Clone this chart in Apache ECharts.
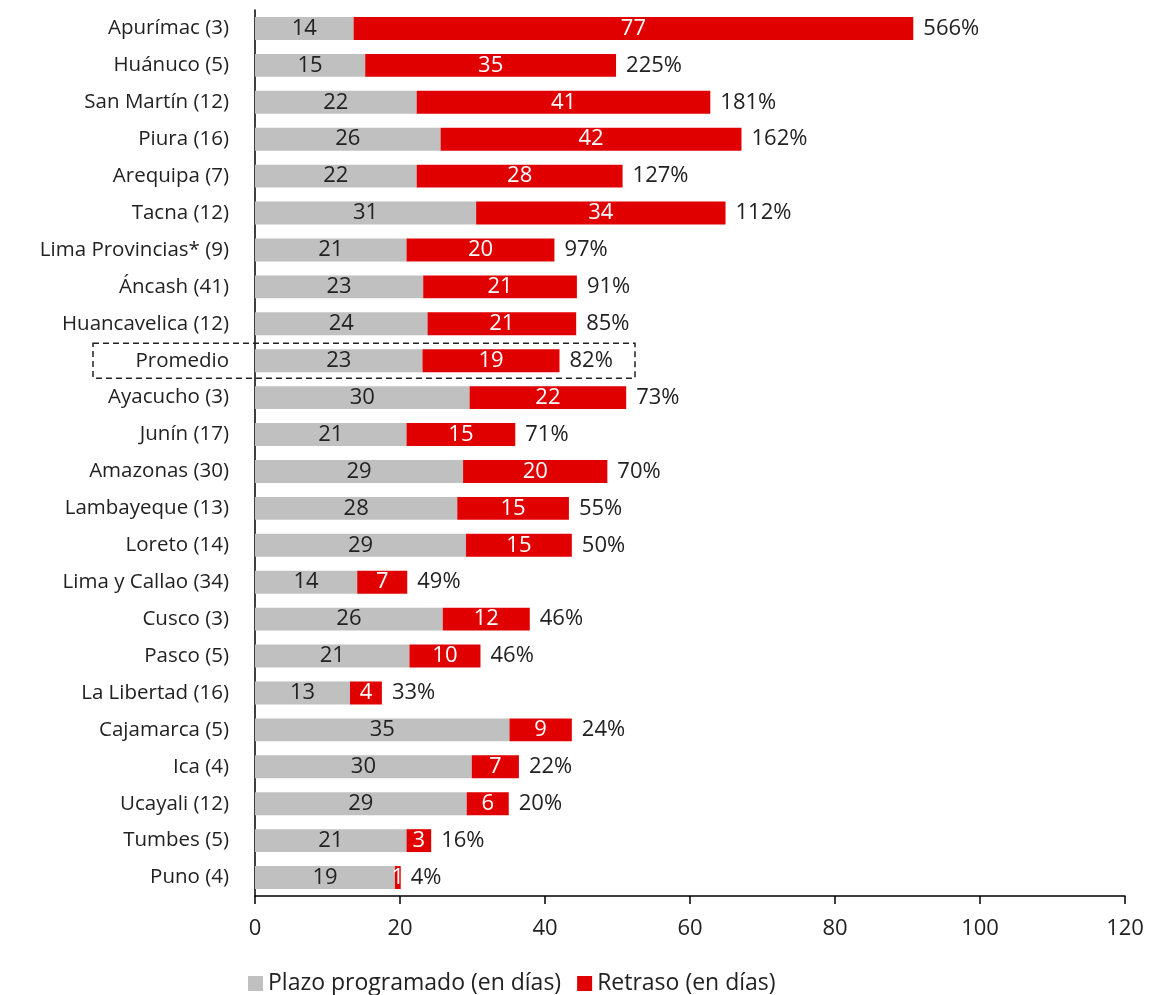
<!DOCTYPE html>
<html><head><meta charset="utf-8">
<script src="https://cdn.jsdelivr.net/npm/echarts@6/dist/echarts.min.js"></script>
<style>html,body{margin:0;padding:0;background:#fff}#c{width:1151px;height:995px}</style>
</head><body><div id="c"></div>
<script>
const categories = ["Apurímac (3)","Huánuco (5)","San Martín (12)","Piura (16)","Arequipa (7)","Tacna (12)","Lima Provincias* (9)","Áncash (41)","Huancavelica (12)","Promedio","Ayacucho (3)","Junín (17)","Amazonas (30)","Lambayeque (13)","Loreto (14)","Lima y Callao (34)","Cusco (3)","Pasco (5)","La Libertad (16)","Cajamarca (5)","Ica (4)","Ucayali (12)","Tumbes (5)","Puno (4)"];
const plazo = [13.6,15.2,22.3,25.6,22.3,30.5,20.9,23.2,23.8,23.1,29.6,20.9,28.7,27.9,29.1,14.1,25.9,21.3,13.1,35.1,29.9,29.2,20.9,19.3];
const retraso = [77.2,34.6,40.5,41.5,28.4,34.4,20.4,21.2,20.5,18.9,21.6,15.0,19.9,15.4,14.6,6.9,12.0,9.8,4.4,8.6,6.5,5.8,3.4,0.8];
const plazoLabels = [14,15,22,26,22,31,21,23,24,23,30,21,29,28,29,14,26,21,13,35,30,29,21,19];
const retrasoLabels = [77,35,41,42,28,34,20,21,21,19,22,15,20,15,15,7,12,10,4,9,7,6,3,1];
const pctLabels = ["566%","225%","181%","162%","127%","112%","97%","91%","85%","82%","73%","71%","70%","55%","50%","49%","46%","46%","33%","24%","22%","20%","16%","4%"];
const xTicks = [0,20,40,60,80,100,120];

const FONT = '"Open Sans", sans-serif';
const FS_NUM = 22;
const FS_CAT = 20.5;
const FS_LEG = 23;
const chart = echarts.init(document.getElementById('c'), null, {renderer:'canvas'});
const option = {
  animation:false,
  textStyle:{fontFamily:FONT},
  grid:{left:255,right:26,top:10,height:886,containLabel:false},
  legend:{
    left:243, top:967, itemWidth:15, itemHeight:15, itemGap:16,
    icon:'rect',
    textStyle:{fontSize:FS_LEG,color:'#222',fontFamily:FONT},
    data:['Plazo programado (en días)','Retraso (en días)']
  },
  xAxis:{
    type:'value', min:xTicks[0], max:xTicks[xTicks.length-1], interval:20,
    axisLine:{show:true,lineStyle:{color:'#000',width:1.5}},
    axisTick:{show:true,length:8,lineStyle:{color:'#000',width:1.5}},
    splitLine:{show:false},
    axisLabel:{fontSize:FS_NUM,color:'#222',margin:22,fontFamily:FONT}
  },
  yAxis:{
    type:'category', data:categories, inverse:true,
    axisLine:{show:true,lineStyle:{color:'#000',width:1.5}},
    axisTick:{show:false},
    axisLabel:{fontSize:FS_CAT,color:'#222',margin:26,fontFamily:FONT}
  },
  series:[
    {name:'Plazo programado (en días)',type:'bar',stack:'t',barWidth:'62%',
     data:plazo,itemStyle:{color:'#c0c0c0'},
     label:{show:true,position:'inside',fontSize:FS_NUM,color:'#222',fontFamily:FONT,
       formatter:p=>plazoLabels[p.dataIndex]}},
    {name:'Retraso (en días)',type:'bar',stack:'t',
     data:retraso,itemStyle:{color:'#e00000'},
     label:{show:true,position:'inside',fontSize:FS_NUM,color:'#fff',fontFamily:FONT,
       formatter:p=>retrasoLabels[p.dataIndex]}},
    {name:'pct',type:'bar',stack:'t',data:categories.map(()=>0),
     itemStyle:{color:'transparent'},silent:true,
     label:{show:true,position:'right',distance:10,fontSize:FS_NUM,color:'#222',fontFamily:FONT,
       formatter:p=>pctLabels[p.dataIndex]}}
  ]
};
chart.setOption(option);
const idx = categories.indexOf('Promedio');
const yc = chart.convertToPixel({yAxisIndex:0}, categories[idx]);
const band = 886/categories.length;
chart.setOption({graphic:[{type:'rect',shape:{x:93,y:yc-band/2+1,width:542,height:band-2},
  style:{fill:'none',stroke:'#222',lineWidth:1.5,lineDash:[6,4]},z:100}]});
</script></body></html>
